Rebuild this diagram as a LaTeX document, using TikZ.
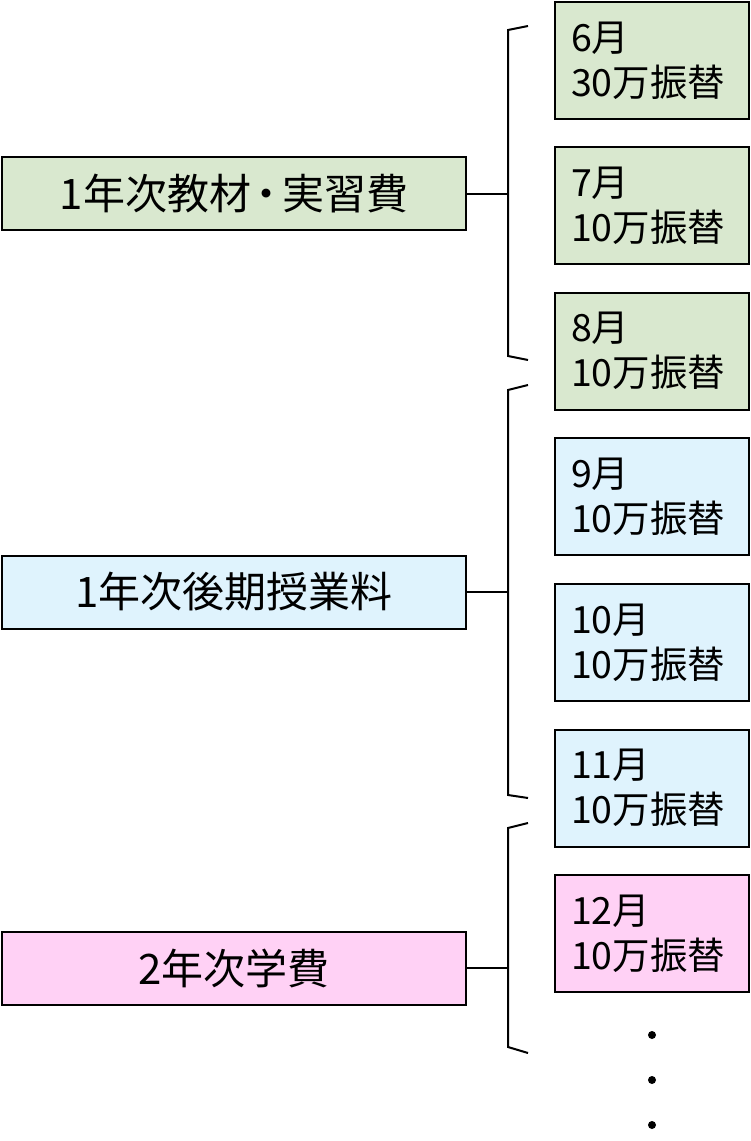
\documentclass[tikz,border=0pt]{standalone}
\usepackage{fontspec}
\setmainfont{Noto Sans CJK JP}
\definecolor{midori}{RGB}{217,232,207}
\definecolor{mizu}{RGB}{223,243,253}
\definecolor{momo}{RGB}{255,209,245}
\begin{document}
\begin{tikzpicture}[x=1pt,y=-1pt,
  hiyou/.style={draw,line width=2pt,minimum width=464pt,minimum height=73pt,inner sep=0pt,font=\fontsize{42}{48}\selectfont},
  tsuki/.style={draw,line width=2pt,minimum width=194pt,minimum height=117pt,text width=162pt,align=left,inner xsep=16pt,inner ysep=0pt,font=\fontsize{37.5}{45}\selectfont},
  kakko/.style={line width=2pt}]
\useasboundingbox (0,0) rectangle (750,1141);
% left side
\node[hiyou,fill=midori] (kyozai) at (234,193.5) {1年次教材\hspace{-5.5pt}・\hspace{-5.5pt}実習費};
\node[hiyou,fill=mizu] (kouki) at (234,592) {1年次後期授業料};
\node[hiyou,fill=momo] (gakuhi) at (234,968) {2年次学費};
% right side
\node[tsuki,fill=midori] (m6) at (652,60.5) {6月\\30万振替};
\node[tsuki,fill=midori] (m7) at (652,205.5) {7月\\10万振替};
\node[tsuki,fill=midori] (m8) at (652,351) {8月\\10万振替};
\node[tsuki,fill=mizu] (m9) at (652,496.5) {9月\\10万振替};
\node[tsuki,fill=mizu] (m10) at (652,642.5) {10月\\10万振替};
\node[tsuki,fill=mizu] (m11) at (652,788) {11月\\10万振替};
\node[tsuki,fill=momo] (m12) at (652,933.5) {12月\\10万振替};
% brackets
\draw[kakko] (528,26) -- (508,30) coordinate (k1) -- (508,356) -- (528,360);
\draw[kakko] (528,385) -- (508,390) coordinate (k2) -- (508,795) -- (528,798);
\draw[kakko] (528,823) -- (508,828) coordinate (k3) -- (508,1047) -- (528,1053);
\draw[kakko] (kyozai.east) -- (kyozai.east -| k1);
\draw[kakko] (kouki.east) -- (kouki.east -| k2);
\draw[kakko] (gakuhi.east) -- (gakuhi.east -| k3);
% dots
\fill (652,1035) circle (4pt);
\fill (652,1080) circle (4pt);
\fill (652,1125) circle (4pt);
\end{tikzpicture}
\end{document}
